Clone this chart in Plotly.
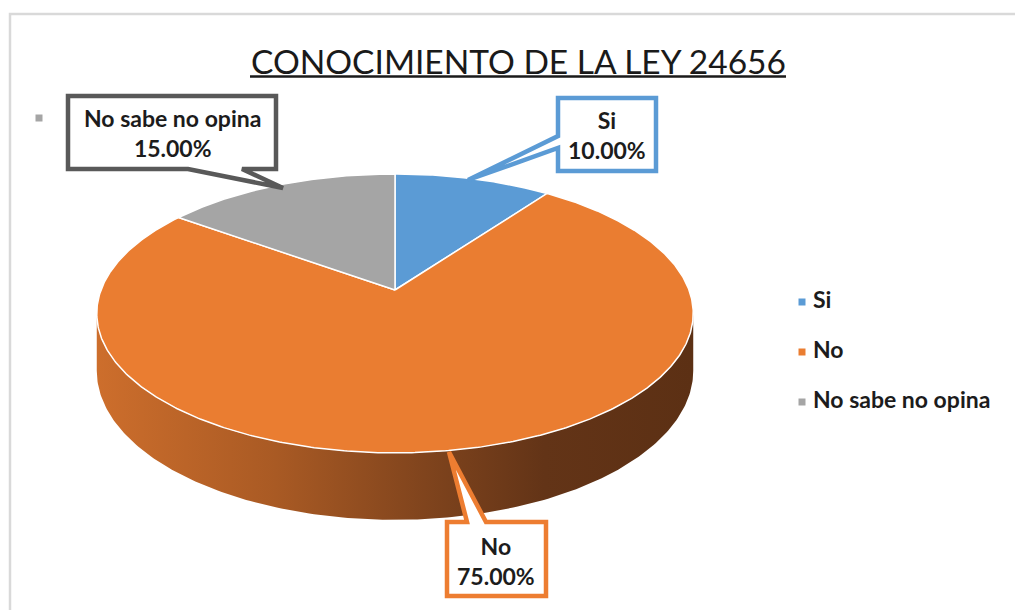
import numpy as np
import plotly.graph_objects as go

# ---- data ----
categories = ["Si", "No", "No sabe no opina"]
values = [10.0, 75.0, 15.0]
slice_colors = ["#5B9BD5", "#EA7D31", "#A5A5A5"]
callout_border = ["#5B9BD5", "#ED7D31", "#595959"]
title_text = "CONOCIMIENTO DE LA LEY 24656"

# ---- geometry of the perspective pie (pixel space) ----
W, Hgt = 1015, 610
cx, cy = 395.0, 290.0
A, B, P, THICK = 294.0, 135.5, 0.168, 55.7
FONT = "Lato"
TXT = "#1c1c1c"
LBL_SIZE = 23


def proj(theta_deg, depth=0.0):
    th = np.radians(theta_deg)
    u, v = np.sin(th), -np.cos(th)
    w = 1 - P * v
    return cx + A * u / w, cy + (B * v + depth) / w


fig = go.Figure()

total = sum(values)
starts = np.cumsum([0] + values[:-1]) / total * 360.0
ends = np.cumsum(values) / total * 360.0

# side (visible front rim) of the pie
t_left = 360 - np.degrees(np.arccos(-P))
t_right = np.degrees(np.arccos(-P))
for i, (a0, a1) in enumerate(zip(starts, ends)):
    lo, hi = max(a0, t_right), min(a1, t_left)
    if hi <= lo:
        continue
    ts = np.linspace(lo, hi, 200)
    tx, ty = proj(ts)
    bx, by = proj(ts[::-1], THICK)
    sx = np.concatenate([tx, bx, tx[:1]])
    sy = np.concatenate([ty, by, ty[:1]])
    fig.add_trace(go.Scatter(
        x=sx, y=sy, mode="lines", fill="toself", line=dict(width=0, color="rgba(0,0,0,0)"),
        fillgradient=dict(type="horizontal", start=float(sx.min()), stop=float(sx.max()),
                          colorscale=[[0, "#cd6e2c"], [0.3, "#a95a24"], [0.55, "#80441d"],
                                      [0.75, "#633417"], [1, "#5c3014"]]),
        hoverinfo="skip", showlegend=False))

# top faces of the slices
for i, (a0, a1) in enumerate(zip(starts, ends)):
    ts = np.linspace(a0, a1, max(int((a1 - a0) * 2), 10))
    ax, ay = proj(ts)
    xs = np.concatenate([[cx], ax, [cx]])
    ys = np.concatenate([[cy], ay, [cy]])
    fig.add_trace(go.Scatter(
        x=xs, y=ys, mode="lines", fill="toself", fillcolor=slice_colors[i],
        line=dict(color="white", width=1.5), name=categories[i],
        hoverinfo="skip", showlegend=False))

# legend (manual)
leg_x, leg_y0, leg_dy = 802, 302, 50
fig.add_trace(go.Scatter(
    x=[leg_x] * len(categories), y=[leg_y0 + k * leg_dy for k in range(len(categories))],
    mode="markers+text", text=[" " + c for c in categories], textposition="middle right",
    marker=dict(symbol="square", size=7, color=slice_colors),
    textfont=dict(family=FONT, size=LBL_SIZE, color=TXT, weight="bold"),
    hoverinfo="skip", showlegend=False))
# stray legend marker top-left
fig.add_trace(go.Scatter(x=[39], y=[118], mode="markers",
                         marker=dict(symbol="square", size=7, color=slice_colors[2]),
                         hoverinfo="skip", showlegend=False))

shapes = []
# chart frame
shapes.append(dict(type="path", path="M 10,612 L 10,14 L 1017,14", xref="x", yref="y",
                   line=dict(color="#d9d9d9", width=2.5)))
# title underline
shapes.append(dict(type="line", x0=250, x1=786, y0=76.5, y1=76.5, xref="x", yref="y",
                   line=dict(color="#1a1a1a", width=2.5)))

# callouts: [Si, No, No sabe]
callout_paths = [
    "M 558,98 L 656,98 L 656,171 L 558,171 L 558,148 L 468,180 L 558,136 Z",
    "M 447,522 L 467,522 L 449,452 L 486,522 L 546,522 L 546,596 L 447,596 Z",
    "M 68,96 L 276,96 L 276,169 L 242,169 L 283,188 L 188,169 L 68,169 Z",
]
callout_centers = [(607, 135), (496, 561), (172, 133)]
for i in range(len(categories)):
    shapes.append(dict(type="path", path=callout_paths[i], xref="x", yref="y",
                       fillcolor="white", line=dict(color=callout_border[i], width=4.5),
                       layer="above"))

annotations = [dict(x=518, y=61, xref="x", yref="y", text=title_text, showarrow=False,
                    font=dict(family=FONT, size=33.5, color="#1a1a1a"))]
for i in range(len(categories)):
    annotations.append(dict(
        x=callout_centers[i][0], y=callout_centers[i][1], xref="x", yref="y",
        text=f"<b>{categories[i]}<br>{values[i]:.2f}%</b>", showarrow=False,
        font=dict(family=FONT, size=LBL_SIZE, color=TXT), align="center"))

fig.update_layout(
    width=W, height=Hgt, margin=dict(l=0, r=0, t=0, b=0),
    paper_bgcolor="white", plot_bgcolor="white",
    xaxis=dict(range=[0, W], visible=False, fixedrange=True),
    yaxis=dict(range=[Hgt, 0], visible=False, fixedrange=True),
    shapes=shapes, annotations=annotations, showlegend=False,
)
fig.write_html("out.html", config={"displayModeBar": False},
               post_script="document.body.style.margin='0';")
